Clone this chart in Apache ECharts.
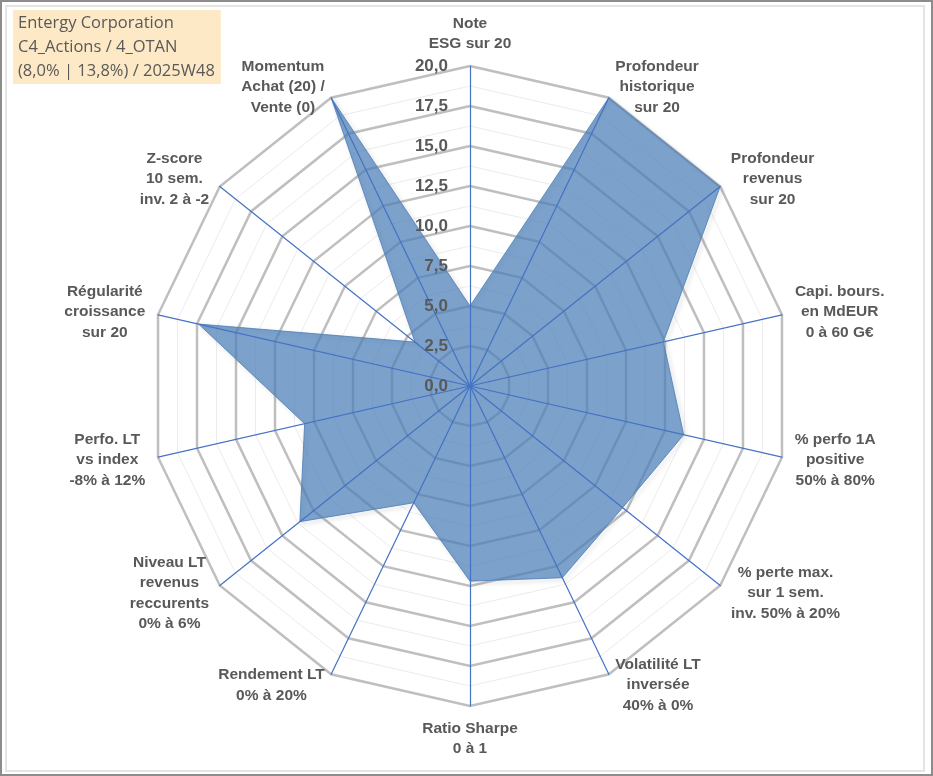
<!DOCTYPE html>
<html>
<head>
<meta charset="utf-8">
<script src="https://cdn.jsdelivr.net/npm/echarts@6/dist/echarts.min.js"></script>
<style>
html, body { margin: 0; padding: 0; background: #fff; }
#chart { position: absolute; left: 0; top: 0; width: 933px; height: 776px; }
.frame { position: absolute; box-sizing: border-box; pointer-events: none; }
#outer { left: 0; top: 0; width: 933px; height: 776px; border: 2px solid #8c8c8c; }
#inner { left: 5px; top: 5px; width: 920px; height: 767px; border: 2px solid #e4e4e4; }
</style>
</head>
<body>
<div id="chart"></div>
<div class="frame" id="outer"></div>
<div class="frame" id="inner"></div>
<script>
// axes, clockwise from the top (same order as the sheet)
const categories = [
    'Note\nESG sur 20',
    'Profondeur\nhistorique\nsur 20',
    'Profondeur\nrevenus\nsur 20',
    'Capi. bours.\nen MdEUR\n0 à 60 G€',
    '% perfo 1A\npositive\n50% à 80%',
    '% perte max.\nsur 1 sem.\ninv. 50% à 20%',
    'Volatilité LT\ninversée\n40% à 0%',
    'Ratio Sharpe\n0 à 1',
    'Rendement LT\n0% à 20%',
    'Niveau LT\nrevenus\nreccurents\n0% à 6%',
    'Perfo. LT\nvs index\n-8% à 12%',
    'Régularité\ncroissance\nsur 20',
    'Z-score\n10 sem.\ninv. 2 à -2',
    'Momentum\nAchat (20) /\nVente (0)'
]
const scores = [5.0, 20, 20, 12.4, 13.7, 12.2, 13.3, 12.2, 8.1, 13.6, 10.6, 17.4, 4.4, 20]

// scale of every axis
const scaleMin = 0
const scaleMax = 20
const majorSplits = 8   // 2.5 steps
const minorSplits = 16  // 1.25 steps

const titleLines = ['Entergy Corporation', 'C4_Actions / 4_OTAN', '(8,0% | 13,8%) / 2025W48']

const nameFont = 'Liberation Sans'
const nameSize = 15.5
const grey = '#595959'

// echarts lays indicators counter-clockwise, so keep the first and reverse the rest
const order = [0].concat(categories.map((c, i) => i).slice(1).reverse())

// measure each name so its lines can be centred inside its own block
let ctx = document.createElement('canvas').getContext('2d')
ctx.font = 'bold ' + nameSize + 'px "' + nameFont + '"'
let rich = {}
let nameKey = {}
order.forEach((i, k) => {
    let key = 'n' + k
    let w = Math.max.apply(null, categories[i].split('\n').map(l => ctx.measureText(l).width))
    rich[key] = {
        width: Math.ceil(w) + 2,
        align: 'center',
        fontFamily: nameFont,
        fontSize: nameSize,
        fontWeight: 'bold',
        color: grey,
        lineHeight: 20.5
    }
    nameKey[categories[i]] = key
})

function indicators(withLabels) {
    return order.map((i, k) => {
        let ind = { name: categories[i], min: scaleMin, max: scaleMax }
        if (withLabels && k === 0) ind.axisLabel = { show: true }
        return ind
    })
}

const common = {
    center: [470, 386],
    radius: 320,
    shape: 'polygon',
    splitArea: { show: false },
    axisTick: { show: false }
}

let chart = echarts.init(document.getElementById('chart'))

let option = {
    animation: false,
    backgroundColor: '#fff',
    title: {
        text: titleLines.join('\n'),
        left: 13,
        top: 10,
        padding: [1, 6, 1, 5],
        backgroundColor: '#fde9c6',
        textStyle: {
            fontFamily: 'Open Sans',
            fontSize: 16.5,
            fontWeight: 'normal',
            color: grey,
            lineHeight: 24
        }
    },
    radar: [
        // light minor rings
        Object.assign({}, common, {
            z: 0,
            indicator: indicators(false),
            splitNumber: minorSplits,
            axisName: { show: false },
            axisLine: { show: false },
            splitLine: { lineStyle: { color: '#ececec', width: 1 } }
        }),
        // major rings + names
        Object.assign({}, common, {
            z: 1,
            indicator: indicators(false),
            splitNumber: majorSplits,
            axisNameGap: 12,
            axisName: {
                color: grey,
                formatter: (name) => name.split('\n').map(l => '{' + nameKey[name] + '|' + l + '}').join('\n'),
                rich: rich
            },
            axisLine: { show: false },
            splitLine: { lineStyle: { color: '#bfbfbf', width: 2.5 } }
        }),
        // blue spokes and value labels over the area
        Object.assign({}, common, {
            z: 3,
            indicator: indicators(true),
            splitNumber: majorSplits,
            axisName: { show: false },
            axisLine: { lineStyle: { color: '#4472c4', width: 1.2 } },
            splitLine: { show: false },
            axisLabel: {
                show: false,
                color: grey,
                fontFamily: nameFont,
                fontSize: 17,
                fontWeight: 'bold',
                margin: 22,
                formatter: (v) => v.toFixed(1).replace('.', ',')
            }
        })
    ],
    series: [{
        type: 'radar',
        radarIndex: 1,
        z: 2,
        symbol: 'none',
        silent: true,
        data: [{ value: order.map(i => scores[i]) }],
        lineStyle: {
            width: 1,
            color: '#6f95c2',
            shadowBlur: 4,
            shadowColor: 'rgba(0, 0, 0, 0.3)',
            shadowOffsetX: 2,
            shadowOffsetY: 2
        },
        areaStyle: {
            color: '#4a7db6',
            opacity: 0.724
        }
    }]
}

chart.setOption(option)
</script>
</body>
</html>
